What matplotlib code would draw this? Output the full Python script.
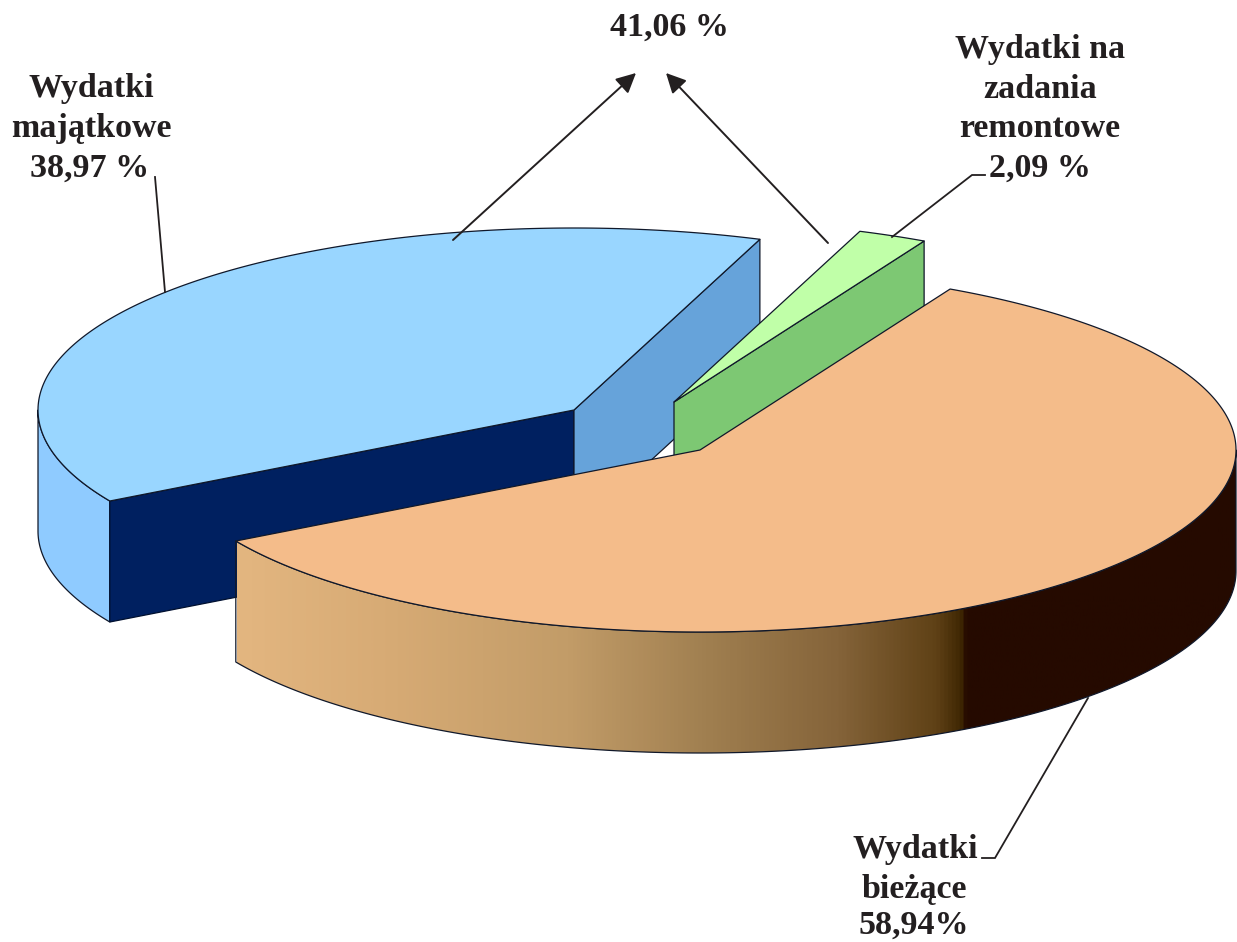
import numpy as np
import matplotlib
matplotlib.use("Agg")
import matplotlib.pyplot as plt
from matplotlib.colors import LinearSegmentedColormap
from matplotlib.patches import Polygon

# shares in percent, in drawing order (clockwise from the start angle)
slices = ["majatkowe", "remontowe", "biezace"]
shares = [38.97, 2.09, 58.94]

label_lines = [
    ["Wydatki", "majątkowe", "38,97 %"],
    ["Wydatki na", "zadania", "remontowe", "2,09 %"],
    ["Wydatki", "bieżące", "58,94%"],
]
total_label = "41,06 %"

W, H = 1237, 942
A, B = 536, 182      # ellipse radii
DEPTH = 121
START = 210.0
# exploded centres of the slices
centres = [(574, 410), (674, 402), (700, 450)]


def arc(c, t1, t2, dy=0, n=200):
    t = np.radians(np.linspace(t1, t2, n))
    return np.column_stack([c[0] + A * np.cos(t), c[1] - B * np.sin(t) + dy])


def wall(p, q):
    # flat cut face going down from edge p-q
    return [p, q, (q[0], q[1] + DEPTH), (p[0], p[1] + DEPTH)]


fig = plt.figure(figsize=(W / 100, H / 100), dpi=100)
ax = fig.add_axes([0, 0, 1, 1])

ends = START - np.cumsum(shares) * 3.6
starts = np.r_[START, ends[:-1]]
edge = dict(edgecolor="#10182a", linewidth=0.9, joinstyle="round")

# --- blue slice ---
c = centres[0]
t1, t2 = starts[0], ends[0]
top = arc(c, t1, t2)
side = arc(c, 180, t1)
ax.add_patch(Polygon(np.vstack([side, (side + [0, DEPTH])[::-1]]), facecolor="#8fcbff", **edge))
ax.add_patch(Polygon(wall(c, top[0]), facecolor="#002060", edgecolor="#001030", linewidth=0.9))
ax.add_patch(Polygon(wall(c, top[-1]), facecolor="#66a3da", **edge))
ax.add_patch(Polygon(np.vstack([[c], top]), facecolor="#99d6ff", **edge))

# --- green slice ---
c = centres[1]
t1, t2 = starts[1], ends[1]
top = arc(c, t1, t2, n=30)
ax.add_patch(Polygon(wall(c, top[-1]), facecolor="#7dc873", **edge))
ax.add_patch(Polygon(np.vstack([[c], top]), facecolor="#c0ffa8", **edge))

# --- orange slice ---
c = centres[2]
t1, t2 = starts[2], ends[2]
top = arc(c, t1, t2, n=400)
side = arc(c, t2, 0, n=300)
side_poly = Polygon(np.vstack([side, (side + [0, DEPTH])[::-1]]), facecolor="none", **edge)
ax.add_patch(side_poly)
shade = LinearSegmentedColormap.from_list("side", [
    (0.00, "#e3b680"), (0.16, "#d6aa74"), (0.33, "#c29c68"), (0.47, "#a07f50"),
    (0.60, "#85643a"), (0.70, "#5f4116"), (0.725, "#3f2703"), (0.73, "#250a00"),
    (1.00, "#250a00"),
])
grad = ax.imshow(np.linspace(0, 1, 512)[None, :], cmap=shade, vmin=0, vmax=1, aspect="auto",
                 extent=[237, 1237, 800, 400], zorder=1.5)
grad.set_clip_path(side_poly)
side_poly.set_zorder(1.6)
ax.add_patch(Polygon(np.vstack([[c], top]), facecolor="#f4bc8a", zorder=1.7, **edge))

ax.set_xlim(0, W)
ax.set_ylim(H, 0)
ax.axis("off")

# --- leaders and arrows ---
ink = "#231f20"
for xs, ys in [((165, 155), (292, 177)),
               ((892, 972, 985), (237, 175, 175)),
               ((1088, 995, 982), (698, 858, 858))]:
    ax.plot(xs, ys, color=ink, lw=1.3, zorder=3, solid_joinstyle="miter")

for tail, tip in [((453, 240), (636, 73)), ((828, 243), (666, 73))]:
    ax.annotate("", xy=tip, xytext=tail, zorder=3,
                arrowprops=dict(arrowstyle="-|>", color=ink, lw=1.4, mutation_scale=30,
                                shrinkA=0, shrinkB=0))

# --- text ---
font = dict(family="Liberation Serif", weight="bold", size=24.5, color=ink,
            ha="center", va="baseline", zorder=4)
ax.text(670, 36, total_label, **font)
for lines, xs, ys in [(label_lines[0], (91, 91, 90), (97, 137, 177)),
                      (label_lines[1], (1040, 1040, 1040, 1040), (58, 98, 137, 177)),
                      (label_lines[2], (915, 914, 914), (858, 898, 934))]:
    for s, x, y in zip(lines, xs, ys):
        ax.text(x, y, s, **font)

fig.savefig("out.png", dpi=100, facecolor="white")
